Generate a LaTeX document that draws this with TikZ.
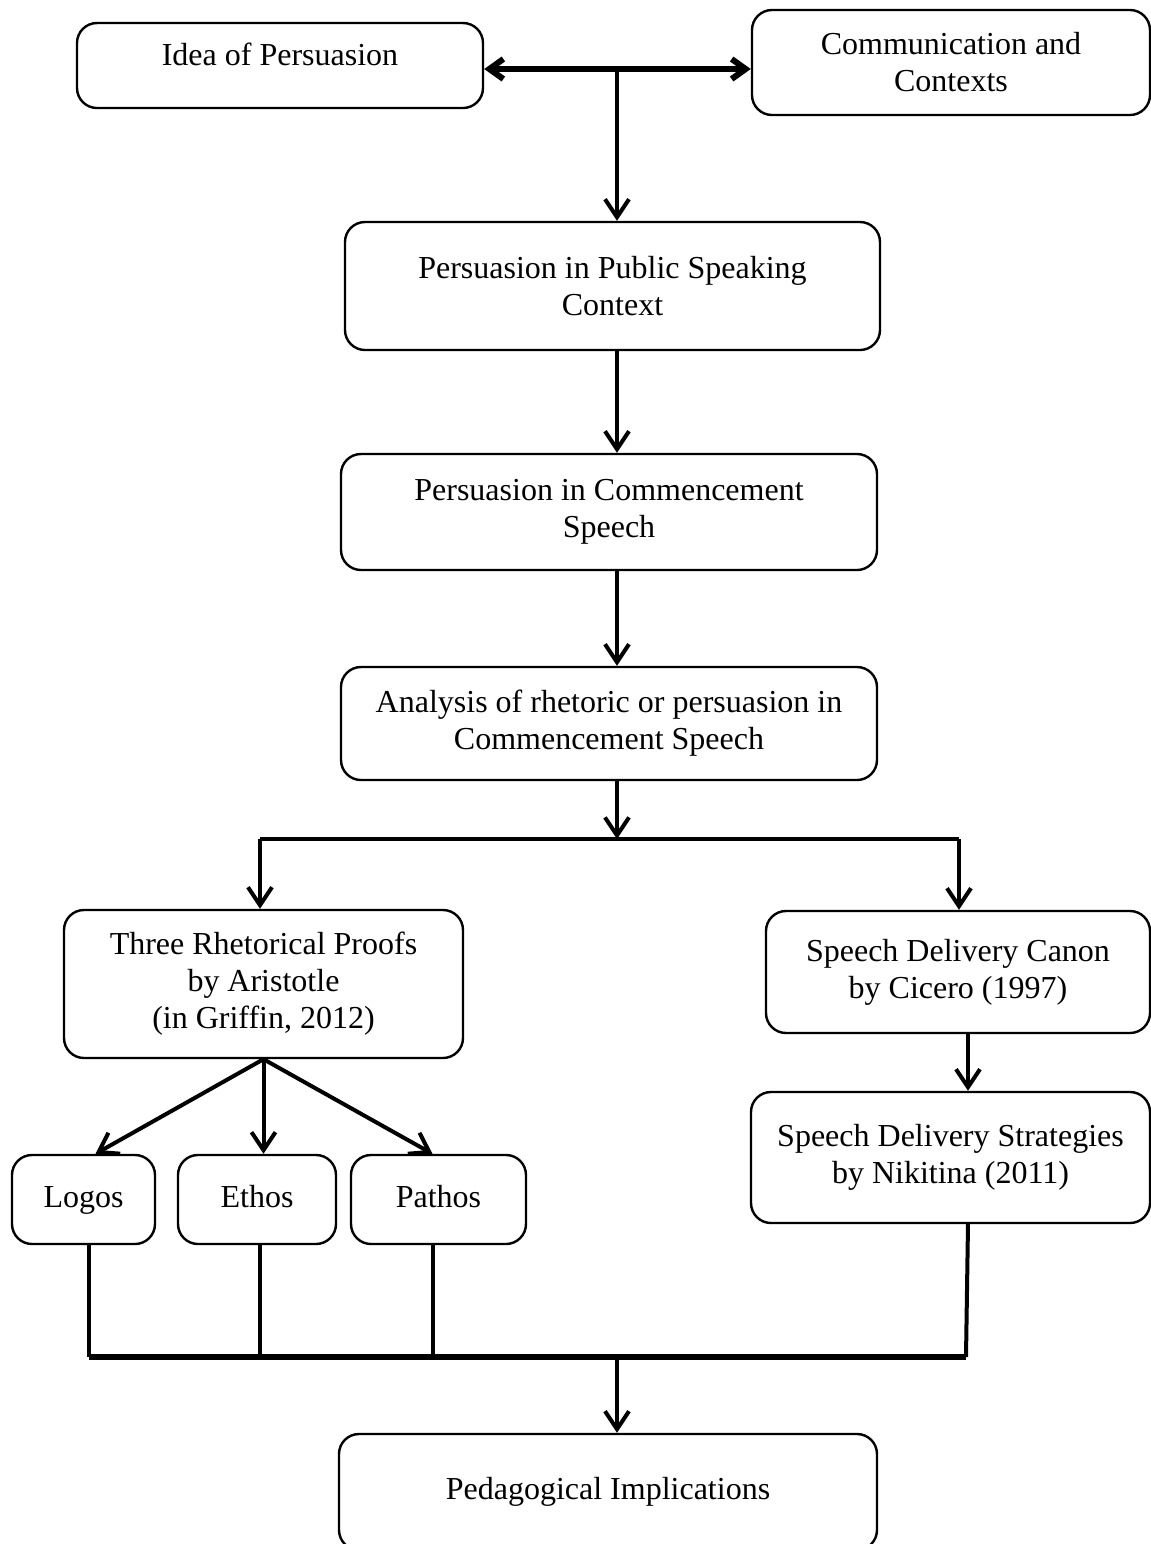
\documentclass[tikz,border=0pt]{standalone}
\usepackage{fontspec}
\setmainfont{Liberation Serif}
\usetikzlibrary{arrows.meta, calc}

\tikzset{
  box/.style={draw, line width=1.2pt, rounded corners=10pt, align=center, inner sep=0pt,
    font=\fontsize{16}{18.5}\selectfont},
  proofbox/.style={box, minimum height=44.5pt, text height=11pt, text depth=3.5pt},
  link/.style={line width=2pt},
  arr/.style={link, -{Straight Barb[length=9pt,width=12pt]}},
  dblarr/.style={line width=3pt, {Straight Barb[length=7pt,width=10pt]}-{Straight Barb[length=7pt,width=10pt]}},
}

\begin{document}
\begin{tikzpicture}[x=0.5pt, y=-0.5pt]
	    \useasboundingbox (0,0) rectangle (1151,1544);
	    % boxes
	    \node[box, minimum width=203pt, minimum height=42.5pt, text depth=11.5pt] (idea) at (280,65.5) {Idea of Persuasion};
	    \node[box, minimum width=199pt, minimum height=52.5pt] (comm) at (951,62.5) {Communication and\\Contexts};
	    \node[box, minimum width=267.5pt, minimum height=64pt] (public) at (612.5,286) {Persuasion in Public Speaking\\Context};
	    \node[box, minimum width=268pt, minimum height=58pt] (commence) at (609,512) {Persuasion in Commencement\\Speech};
	    \node[box, minimum width=268pt, minimum height=56.5pt] (analysis) at (609,723.5) {Analysis of rhetoric or persuasion in\\Commencement Speech};
	    \node[box, minimum width=199.5pt, minimum height=74pt] (three) at (263.5,984) {Three Rhetorical Proofs\\by Aristotle\\ (in Griffin, 2012)};
	    \node[box, minimum width=192pt, minimum height=61pt] (canon) at (958,972) {Speech Delivery Canon\\by Cicero (1997)};
	    \node[box, minimum width=199.5pt, minimum height=65.5pt] (strat) at (950.5,1157.5) {Speech Delivery Strategies\\by Nikitina (2011)};
	    \node[proofbox, minimum width=71.5pt] (logos) at (83.5,1199.5) {Logos};
	    \node[proofbox, minimum width=79pt] (ethos) at (257,1199.5) {Ethos};
	    \node[proofbox, minimum width=87.5pt] (pathos) at (438.5,1199.5) {Pathos};
	    \node[box, minimum width=269pt, minimum height=58pt] (pedag) at (608,1492) {Pedagogical Implications};
	    % junctions
	    \coordinate (top) at (617,69);
	    \coordinate (split) at (617,839);
	    \coordinate (splitL) at (260,839);
	    \coordinate (splitR) at (959,839);
	    \coordinate (rcol) at (968,1100);
	    \coordinate (bus) at (617,1357);
	    \coordinate (busL) at (89,1357);
	    \coordinate (busE) at (260,1357);
	    \coordinate (busP) at (433,1357);
	    \coordinate (busR) at (966,1357);
	    % connectors
	    \draw[dblarr] (idea.east |- top) -- (comm.west |- top);
	    \draw[arr] (top) -- (top |- public.north);
	    \draw[arr] (top |- public.south) -- (top |- commence.north);
	    \draw[arr] (top |- commence.south) -- (top |- analysis.north);
	    \draw[arr] (top |- analysis.south) -- (split);
	    \draw[link] (splitL) -- (splitR);
	    \draw[arr] (splitL) -- (splitL |- three.north);
	    \draw[arr] (splitR) -- (splitR |- canon.north);
	    \draw[arr] (three.south) -- ($(logos.north)+(12,0)$);
	    \draw[arr] (three.south) -- (three.south |- ethos.north);
	    \draw[arr] (three.south) -- ($(pathos.north)+(-6,0)$);
	    \draw[arr] (rcol |- canon.south) -- (rcol |- strat.north);
	    \draw[link] (busL |- logos.south) -- (busL);
	    \draw[link] (busE |- ethos.south) -- (busE);
	    \draw[link] (busP |- pathos.south) -- (busP);
	    \draw[link] (rcol |- strat.south) -- (busR);
	    \draw[line width=3pt] (busL) -- (busR);
	    \draw[arr] (bus) -- (bus |- pedag.north);
\end{tikzpicture}
\end{document}
